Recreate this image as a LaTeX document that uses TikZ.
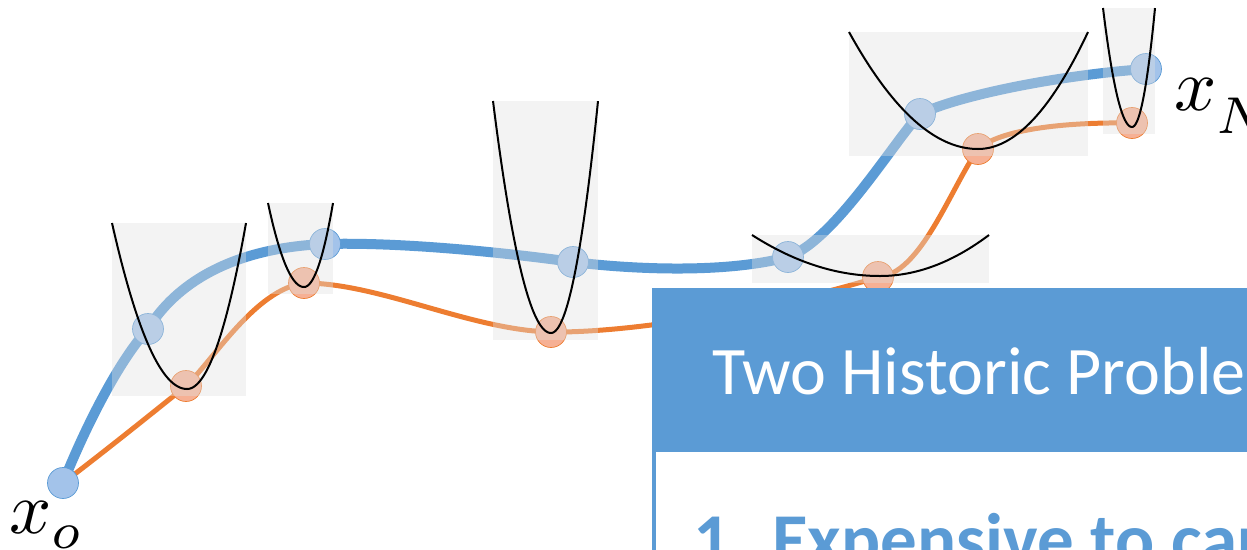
\documentclass[tikz,border=0pt]{standalone}
\usepackage{graphicx}
\usepackage{fontspec}
\newfontfamily\boxfont{Carlito}
\definecolor{curveblue}{HTML}{5B9BD5}
\definecolor{curveorange}{HTML}{ED7D31}
\definecolor{ptblue}{HTML}{A3C3EA}
\definecolor{ptorange}{HTML}{F6B094}

\tikzset{
  bluecurve/.style={curveblue, line width=10pt, line cap=round},
  orangecurve/.style={curveorange, line width=5pt, line cap=round},
  bluept/.style={circle, minimum size=31pt, inner sep=0pt, fill=ptblue, draw=curveblue, line width=0.7pt},
  orangept/.style={circle, minimum size=31pt, inner sep=0pt, fill=ptorange, draw=curveorange, line width=0.7pt},
  bowlfill/.style={fill=black!12, fill opacity=0.38},
  bowlline/.style={black, line width=2pt},
  headtext/.style={anchor=base west, inner sep=0pt, text=white, font=\boxfont\fontsize{68}{80}\selectfont},
  itemtext/.style={anchor=base west, inner sep=0pt, text=curveblue, font=\boxfont\bfseries\fontsize{73}{84}\selectfont},
  mathlabel/.style={anchor=base west, inner sep=0pt},
}

% a bowl: vertex (#1,#2), left/right half widths #3/#4, rim height #5
\newcommand\bowl[5]{%
  \fill[bowlfill] ({#1-#3},#5) rectangle ({#1+#4},{#2+7});
  \draw[bowlline] plot[domain=-1:0, samples=40] ({#1+#3*\x},{#2-(#2-#5)*\x*\x})
    -- plot[domain=0:1, samples=40] ({#1+#4*\x},{#2-(#2-#5)*\x*\x});
}
% point label: symbol #1, subscript #2 lowered by #3 more
\newcommand\ptlabel[3]{\scalebox{7.4}{$#1_{\raisebox{-#3}{$\scriptstyle #2$}}$}}

\begin{document}
\begin{tikzpicture}[x=1pt, y=-1pt]
\useasboundingbox (0,0) rectangle (1247,549);
\clip (0,0) rectangle (1247,549);

% positions along the two trajectories
\coordinate (b0) at (63,483);
\coordinate (b1) at (148,329);
\coordinate (b2) at (325,244);
\coordinate (b3) at (573,262);
\coordinate (b4) at (788,257);
\coordinate (b5) at (920,114);
\coordinate (b6) at (1146,69);
\coordinate (o1) at (186,386);
\coordinate (o2) at (304,283);
\coordinate (o3) at (551,332);
\coordinate (o4) at (878,277);
\coordinate (o5) at (978,149);
\coordinate (o6) at (1132,123);

% trajectories
\draw[orangecurve] (b0) .. controls (100,455) and (150,415) .. (o1)
  .. controls (215,358) and (255,290) .. (o2)
  .. controls (380,283) and (470,330) .. (o3)
  .. controls (640,333) and (790,305) .. (o4)
  .. controls (920,275) and (950,190) .. (o5)
  .. controls (1000,130) and (1060,122) .. (o6);
\draw[bluecurve] (b0) .. controls (80,440) and (115,365) .. (b1)
  .. controls (175,285) and (230,248) .. (b2)
  .. controls (400,242) and (500,252) .. (b3)
  .. controls (620,268) and (720,275) .. (b4)
  .. controls (835,240) and (895,140) .. (b5)
  .. controls (960,95) and (1060,75) .. (b6);

% trajectory points
\node[orangept] (p1) at (o1) {};
\node[orangept] (p2) at (o2) {};
\node[orangept] (p3) at (o3) {};
\node[orangept] (p4) at (o4) {};
\node[orangept] (p5) at (o5) {};
\node[orangept] (p6) at (o6) {};
\node[bluept] (q0) at (b0) {};
\node[bluept] (q1) at (b1) {};
\node[bluept] (q2) at (b2) {};
\node[bluept] (q3) at (b3) {};
\node[bluept] (q4) at (b4) {};
\node[bluept] (q5) at (b5) {};
\node[bluept] (q6) at (b6) {};

% local quadratic models
\bowl{187}{389}{75}{59}{223}
\bowl{304}{287}{36}{29}{203}
\bowl{551}{333}{58}{47}{101}
\bowl{880}{276}{128}{109}{235}
\bowl{978}{149}{129}{110}{32}
\bowl{1132}{127}{29}{23}{8}

% end point labels
\node[mathlabel] (lx0) at (9,533) {\ptlabel{x}{o}{0.6pt}};
\node[mathlabel] (lxN) at (1174,110) {\ptlabel{x}{N}{1.7pt}};

% text panel
\fill[white] (652,288) rectangle (1260,570);
\fill[curveblue] (652,288) rectangle (1260,452);
\draw[curveblue, line width=4pt] (654,452) -- (654,570);
\node[headtext] (title) at (712,394) {Two Historic Problems};
\node[itemtext] (num) at (693,564) {1.};
\node[itemtext] (item) at (772,564) {Expensive to carry};
\end{tikzpicture}
\end{document}
